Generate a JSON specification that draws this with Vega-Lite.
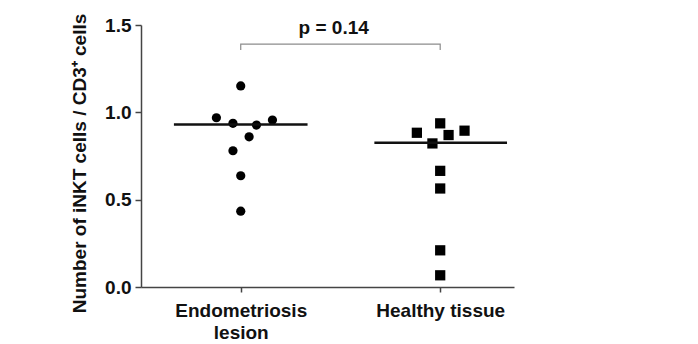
{
  "$schema": "https://vega.github.io/schema/vega-lite/v6.json",
  "width": 373,
  "height": 262,
  "autosize": "none",
  "padding": {"left": 141, "top": 25, "right": 184, "bottom": 57},
  "background": "white",
  "config": {"view": {"stroke": null}, "font": "Liberation Sans"},
  "datasets": {
    "points": [
      {"group": "Endometriosis lesion", "pos": 1.0, "value": 1.151},
      {"group": "Endometriosis lesion", "pos": 0.878, "value": 0.969},
      {"group": "Endometriosis lesion", "pos": 0.961, "value": 0.937},
      {"group": "Endometriosis lesion", "pos": 1.079, "value": 0.927},
      {"group": "Endometriosis lesion", "pos": 1.159, "value": 0.956},
      {"group": "Endometriosis lesion", "pos": 1.042, "value": 0.86},
      {"group": "Endometriosis lesion", "pos": 0.961, "value": 0.78},
      {"group": "Endometriosis lesion", "pos": 1.0, "value": 0.637},
      {"group": "Endometriosis lesion", "pos": 1.0, "value": 0.434},
      {"group": "Healthy tissue", "pos": 1.883, "value": 0.883},
      {"group": "Healthy tissue", "pos": 2.0, "value": 0.937},
      {"group": "Healthy tissue", "pos": 2.042, "value": 0.87},
      {"group": "Healthy tissue", "pos": 2.122, "value": 0.895},
      {"group": "Healthy tissue", "pos": 1.961, "value": 0.822},
      {"group": "Healthy tissue", "pos": 2.0, "value": 0.665},
      {"group": "Healthy tissue", "pos": 2.0, "value": 0.564},
      {"group": "Healthy tissue", "pos": 2.0, "value": 0.21},
      {"group": "Healthy tissue", "pos": 2.0, "value": 0.067}
    ],
    "means": [
      {"group": "Endometriosis lesion", "start": 0.665, "end": 1.335, "mean": 0.931},
      {"group": "Healthy tissue", "start": 1.67, "end": 2.335, "mean": 0.826}
    ],
    "bracket": [
      {"step": 1, "bx": 1, "by": 1.357},
      {"step": 2, "bx": 1, "by": 1.39},
      {"step": 3, "bx": 2, "by": 1.39},
      {"step": 4, "bx": 2, "by": 1.357}
    ],
    "annot": [
      {"ax": 1.466, "ay": 1.449, "label": "p = 0.14"}
    ]
  },
  "layer": [
    {
      "data": {"name": "points"},
      "mark": {"type": "point", "filled": true, "opacity": 1, "clip": false},
      "encoding": {
        "x": {
          "field": "pos", "type": "quantitative",
          "scale": {"domain": [0.5, 2.37], "nice": false, "zero": false},
          "axis": {
            "values": [1, 2],
            "title": null,
            "grid": false,
            "labelExpr": "datum.value == 1 ? ['Endometriosis', 'lesion'] : 'Healthy tissue'",
            "labelFont": "Liberation Sans",
            "labelFontWeight": "bold",
            "labelFontSize": 19,
            "labelColor": "#111111",
            "labelLineHeight": 22,
            "labelPadding": 9,
            "labelBaseline": "top",
            "tickSize": 5,
            "tickColor": "#444444",
            "tickWidth": 1.5,
            "domainColor": "#444444",
            "domainWidth": 1.5
          }
        },
        "y": {
          "field": "value", "type": "quantitative",
          "scale": {"domain": [0, 1.5], "nice": false},
          "axis": {
            "values": [0, 0.5, 1, 1.5],
            "format": ".1f",
            "title": "Number of iNKT cells / CD3⁺ cells",
            "titleFont": "Liberation Sans",
            "titleFontWeight": "bold",
            "titleFontSize": 19,
            "titleColor": "#111111",
            "titlePadding": 15,
            "titleY": 138,
            "grid": false,
            "labelFont": "Liberation Sans",
            "labelFontWeight": "bold",
            "labelFontSize": 19,
            "labelColor": "#111111",
            "labelPadding": 4,
            "tickSize": 6,
            "tickColor": "#444444",
            "tickWidth": 1.5,
            "domainColor": "#444444",
            "domainWidth": 1.5
          }
        },
        "shape": {
          "field": "group", "type": "nominal",
          "scale": {"domain": ["Endometriosis lesion", "Healthy tissue"], "range": ["circle", "square"]},
          "legend": null
        },
        "size": {
          "field": "group", "type": "nominal",
          "scale": {"domain": ["Endometriosis lesion", "Healthy tissue"], "range": [85, 105]},
          "legend": null
        },
        "color": {"value": "#000000"}
      }
    },
    {
      "data": {"name": "means"},
      "mark": {"type": "rule", "color": "#111111", "strokeWidth": 2.5},
      "encoding": {
        "x": {"field": "start", "type": "quantitative"},
        "x2": {"field": "end"},
        "y": {"field": "mean", "type": "quantitative"}
      }
    },
    {
      "data": {"name": "bracket"},
      "mark": {"type": "line", "color": "#8c8c8c", "strokeWidth": 1.2, "clip": false},
      "encoding": {
        "x": {"field": "bx", "type": "quantitative"},
        "y": {"field": "by", "type": "quantitative"},
        "order": {"field": "step", "type": "quantitative"}
      }
    },
    {
      "data": {"name": "annot"},
      "mark": {"type": "text", "font": "Liberation Sans", "fontWeight": "bold", "fontSize": 19, "color": "#111111", "align": "center", "baseline": "alphabetic", "clip": false},
      "encoding": {
        "x": {"field": "ax", "type": "quantitative"},
        "y": {"field": "ay", "type": "quantitative"},
        "text": {"field": "label", "type": "nominal"}
      }
    }
  ]
}
